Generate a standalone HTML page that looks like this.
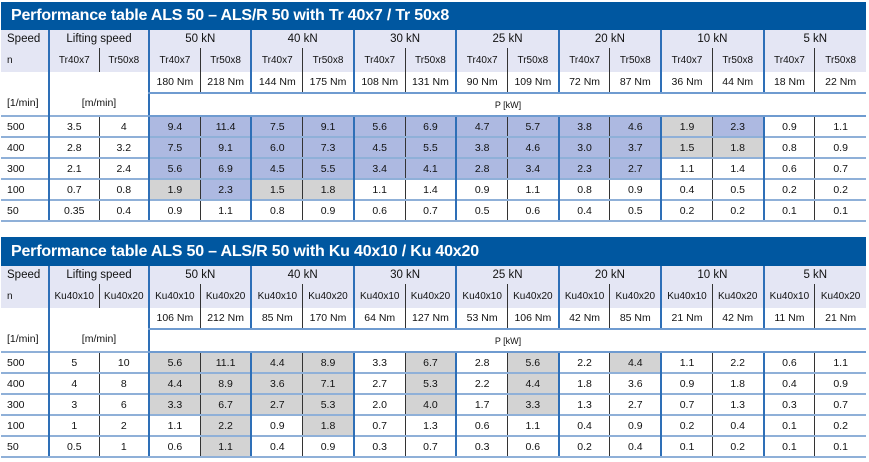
<!DOCTYPE html>
<html><head><meta charset="utf-8"><style>
body{margin:0;width:869px;height:462px;background:#fff;position:relative;overflow:hidden;font-family:"Liberation Sans Narrow","Liberation Sans",sans-serif;color:#111}
.t{position:absolute;left:1px;width:865px;height:28px;background:#0057a0;color:#fff;font:bold 16px "Liberation Sans",sans-serif;line-height:28px;text-indent:10px;letter-spacing:-0.2px}
table{position:absolute;left:1px;width:865px;border-collapse:collapse;table-layout:fixed}
td{padding:0;text-align:center;font-size:10px;white-space:nowrap;overflow:hidden}
tr.h1 td,tr.h2 td{background:#e4e6f4}
tr.h1 td{font-size:11.5px;height:18px}
tr.h2 td{height:24px}
tr.nm td{height:20px;font-size:10.5px}
tr.u td{height:21px}
tr.d td{height:19px;border-top:2px solid #8fb0d8;font-size:10.5px}
tr.d:last-child td{border-bottom:2px solid #8fb0d8}
.l{text-align:left;padding-left:6px}
.g{border-left:2px solid #2e6fb7}
.s{border-left:1px solid #333}
.b{background:#adb9e1}
.y{background:#d3d3d3}
.bt{border-bottom:2px solid #6f9bd0}
tr.u td.pk{border-bottom:2px solid #6f9bd0;vertical-align:middle}
</style></head><body>
<div class="t" style="top:2px">Performance table ALS 50 – ALS/R 50 with Tr 40x7 / Tr 50x8</div>
<table style="top:30px">
<colgroup><col style="width:48px"><col style="width:50px"><col style="width:50px"><col span="14" style="width:51.2px"></colgroup>
<tr class="h1"><td class="l">Speed</td><td class="g" colspan="2">Lifting speed</td><td class="g" colspan="2">50 kN</td><td class="g" colspan="2">40 kN</td><td class="g" colspan="2">30 kN</td><td class="g" colspan="2">25 kN</td><td class="g" colspan="2">20 kN</td><td class="g" colspan="2">10 kN</td><td class="g" colspan="2">5 kN</td></tr>
<tr class="h2"><td class="l" style="font-size:10px">n</td><td class="g">Tr40x7</td><td class="s">Tr50x8</td><td class="g">Tr40x7</td><td class="s">Tr50x8</td><td class="g">Tr40x7</td><td class="s">Tr50x8</td><td class="g">Tr40x7</td><td class="s">Tr50x8</td><td class="g">Tr40x7</td><td class="s">Tr50x8</td><td class="g">Tr40x7</td><td class="s">Tr50x8</td><td class="g">Tr40x7</td><td class="s">Tr50x8</td><td class="g">Tr40x7</td><td class="s">Tr50x8</td></tr>
<tr class="nm"><td rowspan="2" class="l" style="vertical-align:bottom;padding-bottom:6px">[1/min]</td><td rowspan="2" colspan="2" class="g" style="vertical-align:bottom;padding-bottom:6px">[m/min]</td><td class="g bt">180 Nm</td><td class="s bt">218 Nm</td><td class="g bt">144 Nm</td><td class="s bt">175 Nm</td><td class="g bt">108 Nm</td><td class="s bt">131 Nm</td><td class="g bt">90 Nm</td><td class="s bt">109 Nm</td><td class="g bt">72 Nm</td><td class="s bt">87 Nm</td><td class="g bt">36 Nm</td><td class="s bt">44 Nm</td><td class="g bt">18 Nm</td><td class="s bt">22 Nm</td></tr>
<tr class="u"><td colspan="14" class="g pk" style="font-size:9px">P [kW]</td></tr>
<tr class="d"><td class="l">500</td><td class="g">3.5</td><td class="s">4</td><td class="g b">9.4</td><td class="s b">11.4</td><td class="g b">7.5</td><td class="s b">9.1</td><td class="g b">5.6</td><td class="s b">6.9</td><td class="g b">4.7</td><td class="s b">5.7</td><td class="g b">3.8</td><td class="s b">4.6</td><td class="g y">1.9</td><td class="s b">2.3</td><td class="g">0.9</td><td class="s">1.1</td></tr>
<tr class="d"><td class="l">400</td><td class="g">2.8</td><td class="s">3.2</td><td class="g b">7.5</td><td class="s b">9.1</td><td class="g b">6.0</td><td class="s b">7.3</td><td class="g b">4.5</td><td class="s b">5.5</td><td class="g b">3.8</td><td class="s b">4.6</td><td class="g b">3.0</td><td class="s b">3.7</td><td class="g y">1.5</td><td class="s y">1.8</td><td class="g">0.8</td><td class="s">0.9</td></tr>
<tr class="d"><td class="l">300</td><td class="g">2.1</td><td class="s">2.4</td><td class="g b">5.6</td><td class="s b">6.9</td><td class="g b">4.5</td><td class="s b">5.5</td><td class="g b">3.4</td><td class="s b">4.1</td><td class="g b">2.8</td><td class="s b">3.4</td><td class="g b">2.3</td><td class="s b">2.7</td><td class="g">1.1</td><td class="s">1.4</td><td class="g">0.6</td><td class="s">0.7</td></tr>
<tr class="d"><td class="l">100</td><td class="g">0.7</td><td class="s">0.8</td><td class="g y">1.9</td><td class="s b">2.3</td><td class="g y">1.5</td><td class="s y">1.8</td><td class="g">1.1</td><td class="s">1.4</td><td class="g">0.9</td><td class="s">1.1</td><td class="g">0.8</td><td class="s">0.9</td><td class="g">0.4</td><td class="s">0.5</td><td class="g">0.2</td><td class="s">0.2</td></tr>
<tr class="d"><td class="l">50</td><td class="g">0.35</td><td class="s">0.4</td><td class="g">0.9</td><td class="s">1.1</td><td class="g">0.8</td><td class="s">0.9</td><td class="g">0.6</td><td class="s">0.7</td><td class="g">0.5</td><td class="s">0.6</td><td class="g">0.4</td><td class="s">0.5</td><td class="g">0.2</td><td class="s">0.2</td><td class="g">0.1</td><td class="s">0.1</td></tr>
</table>

<div class="t" style="top:237px;height:29px;line-height:29px">Performance table ALS 50 – ALS/R 50 with Ku 40x10 / Ku 40x20</div>
<table style="top:266px">
<colgroup><col style="width:48px"><col style="width:50px"><col style="width:50px"><col span="14" style="width:51.2px"></colgroup>
<tr class="h1"><td class="l">Speed</td><td class="g" colspan="2">Lifting speed</td><td class="g" colspan="2">50 kN</td><td class="g" colspan="2">40 kN</td><td class="g" colspan="2">30 kN</td><td class="g" colspan="2">25 kN</td><td class="g" colspan="2">20 kN</td><td class="g" colspan="2">10 kN</td><td class="g" colspan="2">5 kN</td></tr>
<tr class="h2"><td class="l" style="font-size:10px">n</td><td class="g">Ku40x10</td><td class="s">Ku40x20</td><td class="g">Ku40x10</td><td class="s">Ku40x20</td><td class="g">Ku40x10</td><td class="s">Ku40x20</td><td class="g">Ku40x10</td><td class="s">Ku40x20</td><td class="g">Ku40x10</td><td class="s">Ku40x20</td><td class="g">Ku40x10</td><td class="s">Ku40x20</td><td class="g">Ku40x10</td><td class="s">Ku40x20</td><td class="g">Ku40x10</td><td class="s">Ku40x20</td></tr>
<tr class="nm"><td rowspan="2" class="l" style="vertical-align:bottom;padding-bottom:6px">[1/min]</td><td rowspan="2" colspan="2" class="g" style="vertical-align:bottom;padding-bottom:6px">[m/min]</td><td class="g bt">106 Nm</td><td class="s bt">212 Nm</td><td class="g bt">85 Nm</td><td class="s bt">170 Nm</td><td class="g bt">64 Nm</td><td class="s bt">127 Nm</td><td class="g bt">53 Nm</td><td class="s bt">106 Nm</td><td class="g bt">42 Nm</td><td class="s bt">85 Nm</td><td class="g bt">21 Nm</td><td class="s bt">42 Nm</td><td class="g bt">11 Nm</td><td class="s bt">21 Nm</td></tr>
<tr class="u"><td colspan="14" class="g pk" style="font-size:9px">P [kW]</td></tr>
<tr class="d"><td class="l">500</td><td class="g">5</td><td class="s">10</td><td class="g y">5.6</td><td class="s y">11.1</td><td class="g y">4.4</td><td class="s y">8.9</td><td class="g">3.3</td><td class="s y">6.7</td><td class="g">2.8</td><td class="s y">5.6</td><td class="g">2.2</td><td class="s y">4.4</td><td class="g">1.1</td><td class="s">2.2</td><td class="g">0.6</td><td class="s">1.1</td></tr>
<tr class="d"><td class="l">400</td><td class="g">4</td><td class="s">8</td><td class="g y">4.4</td><td class="s y">8.9</td><td class="g y">3.6</td><td class="s y">7.1</td><td class="g">2.7</td><td class="s y">5.3</td><td class="g">2.2</td><td class="s y">4.4</td><td class="g">1.8</td><td class="s">3.6</td><td class="g">0.9</td><td class="s">1.8</td><td class="g">0.4</td><td class="s">0.9</td></tr>
<tr class="d"><td class="l">300</td><td class="g">3</td><td class="s">6</td><td class="g y">3.3</td><td class="s y">6.7</td><td class="g y">2.7</td><td class="s y">5.3</td><td class="g">2.0</td><td class="s y">4.0</td><td class="g">1.7</td><td class="s y">3.3</td><td class="g">1.3</td><td class="s">2.7</td><td class="g">0.7</td><td class="s">1.3</td><td class="g">0.3</td><td class="s">0.7</td></tr>
<tr class="d"><td class="l">100</td><td class="g">1</td><td class="s">2</td><td class="g">1.1</td><td class="s y">2.2</td><td class="g">0.9</td><td class="s y">1.8</td><td class="g">0.7</td><td class="s">1.3</td><td class="g">0.6</td><td class="s">1.1</td><td class="g">0.4</td><td class="s">0.9</td><td class="g">0.2</td><td class="s">0.4</td><td class="g">0.1</td><td class="s">0.2</td></tr>
<tr class="d"><td class="l">50</td><td class="g">0.5</td><td class="s">1</td><td class="g">0.6</td><td class="s y">1.1</td><td class="g">0.4</td><td class="s">0.9</td><td class="g">0.3</td><td class="s">0.7</td><td class="g">0.3</td><td class="s">0.6</td><td class="g">0.2</td><td class="s">0.4</td><td class="g">0.1</td><td class="s">0.2</td><td class="g">0.1</td><td class="s">0.1</td></tr>
</table>
</body></html>
